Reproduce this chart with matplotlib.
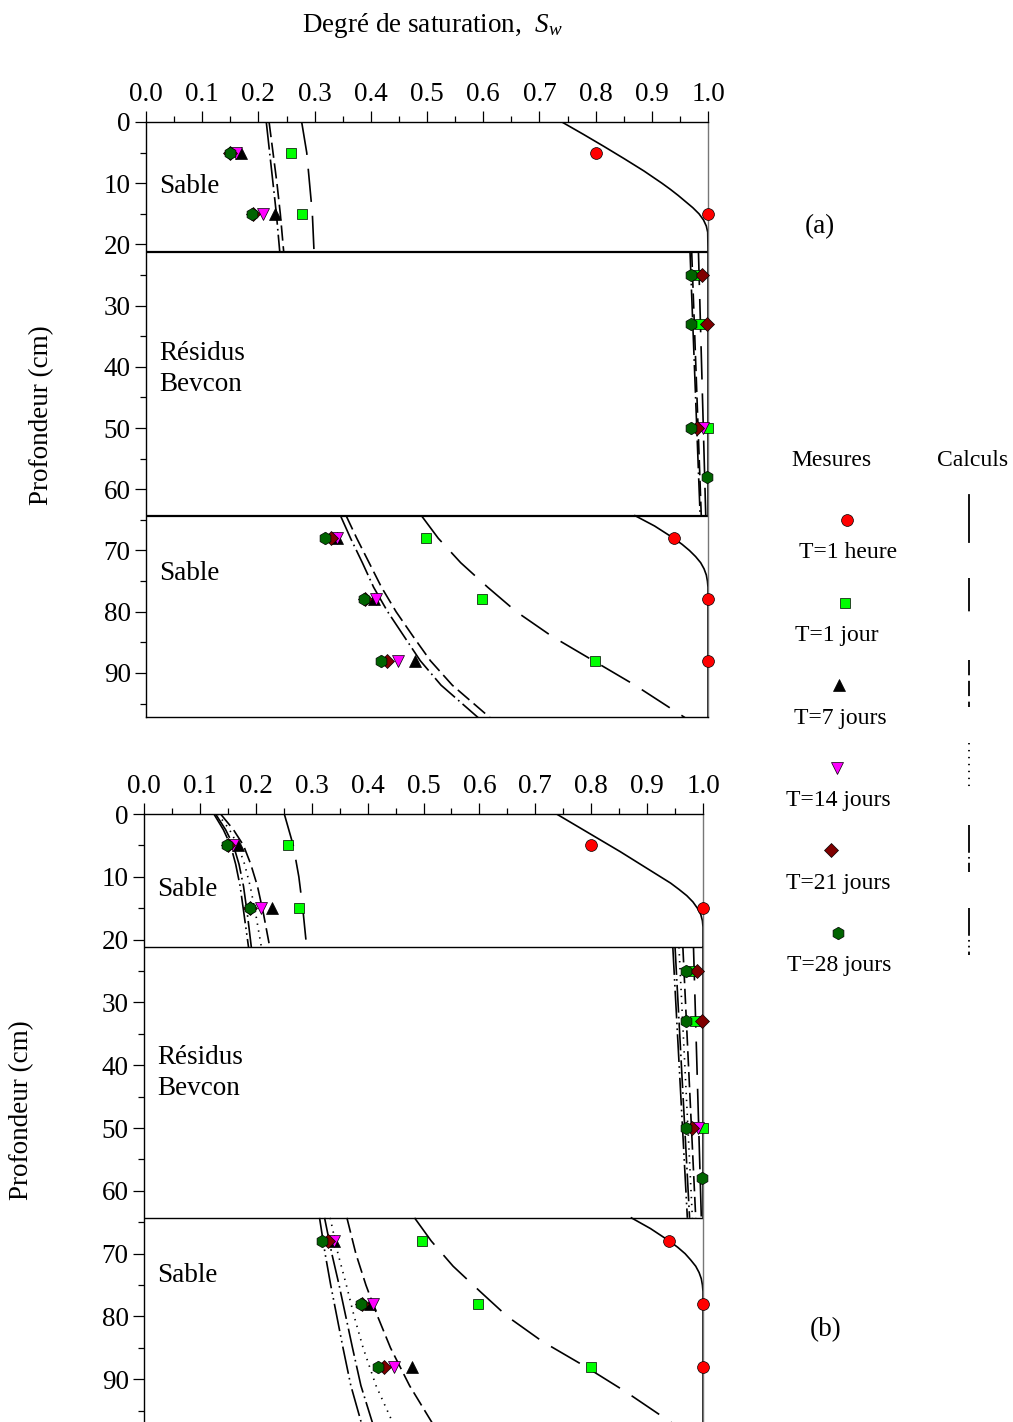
import numpy as np
import matplotlib
matplotlib.use('Agg')
import matplotlib.pyplot as plt
from matplotlib.ticker import MultipleLocator, FormatStrFormatter

plt.rcParams['font.family'] = ['Liberation Serif', 'DejaVu Serif']
plt.rcParams['mathtext.fontset'] = 'custom'
plt.rcParams['mathtext.rm'] = 'Liberation Serif'
plt.rcParams['mathtext.it'] = 'Liberation Serif:italic'
plt.rcParams['lines.scale_dashes'] = False

nan = np.nan

labels = ['T=1 heure', 'T=1 jour', 'T=7 jours', 'T=14 jours', 'T=21 jours', 'T=28 jours']

# layer limits (cm)
z_sand_top = 21.2
z_residue_bot = 64.3

# measured degree of saturation (same data in both panels)
z_mes = [5, 15, 25, 33, 50, 58, 68, 78, 88]
sw_1h = [0.800, 1.000, nan, nan, nan, nan, 0.939, 1.000, 1.000]
sw_1j = [0.258, 0.278, 0.980, 0.986, 1.000, nan, 0.498, 0.598, 0.799]
sw_7j = [0.169, 0.229, nan, nan, nan, nan, 0.340, 0.405, 0.479]
sw_14j = [0.160, 0.209, nan, nan, 0.991, nan, 0.340, 0.409, 0.448]
sw_21j = [0.150, 0.190, 0.989, 0.999, 0.981, nan, 0.329, 0.390, 0.429]
sw_28j = [0.149, 0.189, 0.969, 0.969, 0.970, 0.999, 0.318, 0.388, 0.418]

# calculated profiles; nan breaks the line between layers
z_1h = [0, 2, 4, 6, 8, 10, 11, 12, 13, 14, 15, 16, 17, 18, 21.2, nan, 21.2, 64.3, nan,
        64.3, 66, 68, 69, 70, 71, 72, 73, 74, 75, 76, 97.3]
a_sw_1h = [0.740, 0.778, 0.815, 0.851, 0.886, 0.918, 0.933, 0.947, 0.960, 0.973, 0.984, 0.992, 0.997, 0.9995, 1.0,
           nan, 1.0, 1.0, nan,
           0.870, 0.905, 0.939, 0.954, 0.967, 0.978, 0.987, 0.993, 0.997, 0.999, 1.0, 1.0]
b_sw_1h = [0.738, 0.776, 0.814, 0.852, 0.888, 0.924, 0.942, 0.957, 0.971, 0.982, 0.990, 0.996, 0.999, 1.0, 1.0,
           nan, 1.0, 1.0, nan,
           0.872, 0.906, 0.940, 0.955, 0.968, 0.978, 0.987, 0.993, 0.997, 0.999, 1.0, 1.0]

z_1j = [0, 5, 10, 15, 21.2, nan, 21.2, 64.3, nan, 64.3, 68, 72, 76, 80, 84, 88, 92, 97.3]
a_sw_1j = [0.277, 0.286, 0.291, 0.296, 0.299, nan, 0.983, 0.996, nan,
           0.490, 0.520, 0.560, 0.608, 0.659, 0.722, 0.796, 0.870, 0.959]
b_sw_1j = [0.251, 0.267, 0.277, 0.284, 0.291, nan, 0.983, 0.997, nan,
           0.484, 0.514, 0.553, 0.601, 0.650, 0.713, 0.790, 0.862, 0.950]

a_z = [0, 5, 10, 15, 21.2, nan, 21.2, 64.3, nan, 64.3, 68, 72, 76, 80, 84, 88, 92, 97.3]
a_sw_7j = [0.219, 0.226, 0.233, 0.239, 0.245, nan, 0.971, 0.988, nan,
           0.356, 0.375, 0.397, 0.419, 0.445, 0.475, 0.506, 0.545, 0.612]
a_sw_21j = [0.214, 0.220, 0.226, 0.232, 0.238, nan, 0.968, 0.986, nan,
            0.346, 0.364, 0.385, 0.405, 0.430, 0.459, 0.488, 0.525, 0.591]

b_z = [0, 2.5, 5, 8, 11.5, 16, 21.2, nan, 21.2, 64.3, nan, 64.3, 70, 75, 80, 85, 91, 97.3]
b_sw_7j = [0.137, 0.160, 0.178, 0.191, 0.203, 0.214, 0.225, nan, 0.964, 0.987, nan,
           0.363, 0.379, 0.397, 0.418, 0.441, 0.475, 0.518]
b_sw_14j = [0.132, 0.153, 0.168, 0.180, 0.190, 0.200, 0.210, nan, 0.957, 0.981, nan,
            0.333, 0.347, 0.362, 0.376, 0.392, 0.415, 0.447]
b_sw_21j = [0.128, 0.146, 0.160, 0.170, 0.178, 0.185, 0.192, nan, 0.950, 0.976, nan,
            0.323, 0.336, 0.349, 0.361, 0.373, 0.388, 0.410]
b_sw_28j = [0.125, 0.142, 0.155, 0.164, 0.172, 0.179, 0.187, nan, 0.946, 0.972, nan,
            0.314, 0.324, 0.334, 0.345, 0.356, 0.370, 0.390]

markers = [('o', '#ff0000', 8.5), ('s', '#00ff00', 7.5), ('^', '#000000', 8.5),
           ('v', '#ff00ff', 8.5), ('D', '#800000', 7), ('h', '#006400', 9)]
styles = ['-', (0, (24, 10)), (0, (11, 4)), (0, (1, 4)), (0, (20, 3, 1.2, 3)), (0, (20, 3, 1.2, 3, 1.2, 3))]
meas = [sw_1h, sw_1j, sw_7j, sw_14j, sw_21j, sw_28j]

W, H = 1013, 1422
fig = plt.figure(figsize=(W / 100, H / 100), dpi=100)


def setup(ax, zmax, lw_layer, text_y):
    ax.set_xlim(0, 1)
    ax.set_ylim(zmax, 0)
    ax.xaxis.tick_top()
    ax.xaxis.set_major_locator(MultipleLocator(0.1))
    ax.xaxis.set_minor_locator(MultipleLocator(0.05))
    ax.xaxis.set_major_formatter(FormatStrFormatter('%.1f'))
    ax.yaxis.set_major_locator(MultipleLocator(10))
    ax.yaxis.set_minor_locator(MultipleLocator(5))
    ax.tick_params(which='major', direction='out', length=8, width=0.9, labelsize=19.5, pad=3)
    ax.tick_params(which='minor', direction='out', length=4, width=0.9)
    for s in ax.spines.values():
        s.set_linewidth(1.0)
    ax.spines['right'].set_color('#777777')
    for z in (z_sand_top, z_residue_bot):
        ax.plot([0, 1], [z, z], color='black', lw=lw_layer, zorder=2)
    ax.text(0.023, text_y[0], 'Sable', fontsize=19.5, va='center')
    ax.text(0.023, text_y[1], 'Résidus\nBevcon', fontsize=19.5, va='center', linespacing=1.3)
    ax.text(0.023, text_y[2], 'Sable', fontsize=19.5, va='center')


def draw_measures(ax):
    for vals, (m, c, ms) in zip(meas, markers):
        ax.plot(vals, z_mes, ls='none', marker=m, ms=ms, mfc=c, mec='black', mew=0.5, zorder=5, clip_on=False)


# panel (a)
ax1 = fig.add_axes([146 / W, 1 - 717 / H, 562 / W, 595 / H])
setup(ax1, 97.2, 1.6, (10.6, 40.3, 73.7))
ax1.plot(a_sw_1h, z_1h, color='black', lw=1.2, ls=styles[0])
ax1.plot(a_sw_1j, z_1j, color='black', lw=1.2, ls=styles[1])
ax1.plot(a_sw_7j, a_z, color='black', lw=1.2, ls=styles[2])
ax1.plot(a_sw_21j, a_z, color='black', lw=1.2, ls=styles[4])
draw_measures(ax1)

# panel (b)
ax2 = fig.add_axes([144 / W, 0, 559 / W, 608 / H])
setup(ax2, 96.8, 1.0, (12.1, 41.2, 73.4))
ax2.spines['bottom'].set_visible(False)
ax2.plot(b_sw_1h, z_1h, color='black', lw=1.2, ls=styles[0])
ax2.plot(b_sw_1j, z_1j, color='black', lw=1.2, ls=styles[1])
for sw, st in zip([b_sw_7j, b_sw_14j, b_sw_21j, b_sw_28j], styles[2:]):
    ax2.plot(sw, b_z, color='black', lw=1.2, ls=st)
draw_measures(ax2)

fig.text(432 / W, 1 - 25 / H, 'Degré de saturation,  $S_w$', fontsize=19.5, ha='center', va='center')
fig.text(42 / W, 1 - 415 / H, 'Profondeur (cm)', fontsize=19.5, rotation=90, ha='center', va='center')
fig.text(22 / W, 1 - 1110 / H, 'Profondeur (cm)', fontsize=19.5, rotation=90, ha='center', va='center')
fig.text(820 / W, 1 - 227 / H, '(a)', fontsize=19.5, ha='center', va='center')
fig.text(826 / W, 1 - 1330 / H, '(b)', fontsize=19.5, ha='center', va='center')

# legend built in pixel coordinates
lg = fig.add_axes([0, 0, 1, 1], zorder=-1)
lg.set_xlim(0, W)
lg.set_ylim(H, 0)
lg.axis('off')
lg.text(831, 461, 'Mesures', fontsize=17, ha='center', va='center')
lg.text(973, 461, 'Calculs', fontsize=17, ha='center', va='center')
mark_x = [847, 845, 839, 837, 831, 838]
text_x = [848, 837, 840, 838, 838, 839]
for i, (lab, (m, c, ms), st) in enumerate(zip(labels, markers, styles)):
    y0 = 520 + 82.6 * i
    lg.plot([mark_x[i]], [y0], marker=m, ms=ms, mfc=c, mec='black', mew=0.5, ls='none')
    lg.text(text_x[i], y0 + 33, lab, fontsize=17, ha='center', va='center')
    lg.plot([969, 969], [y0 - 25, y0 + 22], color='black', lw=1.3, ls=st)

fig.savefig('out.png', dpi=100)
